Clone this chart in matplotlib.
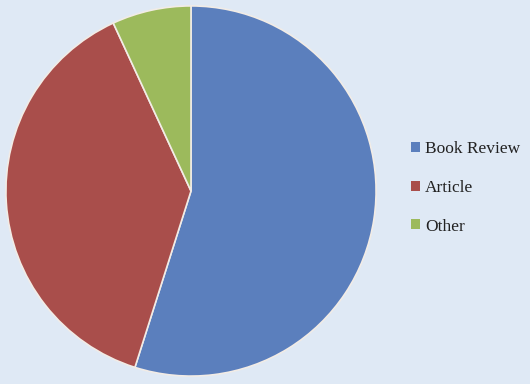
import matplotlib.pyplot as plt
from matplotlib.patches import Patch

# Share of items by type
labels = ["Book Review", "Article", "Other"]
shares = [54.9, 38.2, 6.9]
colors = ["#5b7fbd", "#a94e4b", "#9cba5c"]

bg = "#dfe9f5"
fig = plt.figure(figsize=(5.3, 3.84), dpi=100, facecolor=bg)

# pie box in pixels: x 5..377, y 5..377 from top
ax = fig.add_axes([5 / 530, 7 / 384, 372 / 530, 372 / 384])
ax.set_facecolor(bg)
ax.pie(shares, colors=colors, startangle=90, counterclock=False,
       wedgeprops=dict(edgecolor="#f2ece6", linewidth=1.2))
ax.set_xlim(-1.005, 1.005)
ax.set_ylim(-1.005, 1.005)
ax.set_aspect("equal")
ax.axis("off")

handles = [Patch(facecolor=c, edgecolor="none") for c in colors]
fig.legend(handles, labels, loc="center left",
           bbox_to_anchor=(411 / 530, 1 - 188 / 384),
           frameon=False, borderpad=0, borderaxespad=0,
           handlelength=0.5, handleheight=0.5,
           handletextpad=0.3, labelspacing=1.3,
           prop=dict(family="Liberation Serif", size=12.5),
           labelcolor="#222222")

fig.savefig("out.png", dpi=100, facecolor=bg)
